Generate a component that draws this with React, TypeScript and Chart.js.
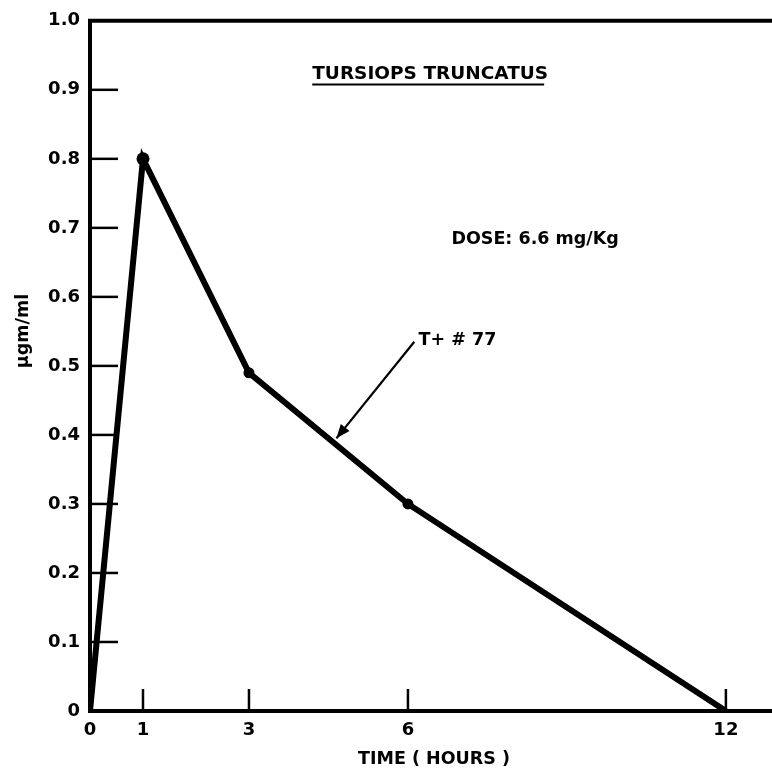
import React, { useEffect, useRef } from "react";
import { Chart, registerables } from "chart.js";

Chart.register(...registerables);

const timeHours = [0, 1, 3, 6, 12];
const concentration = [0, 0.8, 0.49, 0.3, 0];
const pointRadii = [0, 6.5, 5.5, 5.5, 0];
const xTickValues = [0, 1, 3, 6, 12];
const yTickValues = [0, 0.1, 0.2, 0.3, 0.4, 0.5, 0.6, 0.7, 0.8, 0.9, 1.0];
const titleText = "TURSIOPS TRUNCATUS";
const doseText = "DOSE: 6.6 mg/Kg";
const seriesLabel = "T+ # 77";
const xTitle = "TIME ( HOURS )";
const yTitle = "\u03BCgm/ml";

const FONT = "'DejaVu Sans', 'Liberation Sans', sans-serif";

const decorations = {
  id: "decorations",
  afterDraw(chart: any) {
    const ctx = chart.ctx as CanvasRenderingContext2D;
    const area = chart.chartArea;
    const xs = chart.scales.x;
    const ys = chart.scales.y;
    ctx.save();
    ctx.strokeStyle = "#000";
    ctx.fillStyle = "#000";
    // top border
    ctx.lineWidth = 4;
    ctx.beginPath();
    ctx.moveTo(area.left - 2, area.top);
    ctx.lineTo(area.right, area.top);
    ctx.stroke();
    // inner y ticks
    ctx.lineWidth = 2.5;
    for (const v of yTickValues) {
      if (v === 0 || v === 1) continue;
      const py = ys.getPixelForValue(v);
      ctx.beginPath();
      ctx.moveTo(area.left, py);
      ctx.lineTo(area.left + 28, py);
      ctx.stroke();
    }
    // inner x ticks
    for (const v of xTickValues) {
      if (v === 0) continue;
      const px = xs.getPixelForValue(v);
      ctx.beginPath();
      ctx.moveTo(px, area.bottom);
      ctx.lineTo(px, area.bottom - 22);
      ctx.stroke();
    }
    // title
    ctx.font = `bold 18.5px ${FONT}`;
    ctx.textAlign = "center";
    ctx.textBaseline = "alphabetic";
    const tx = xs.getPixelForValue(6.42);
    const ty = ys.getPixelForValue(0.915);
    ctx.fillText(titleText, tx, ty);
    const tw = ctx.measureText(titleText).width;
    ctx.lineWidth = 2;
    ctx.beginPath();
    ctx.moveTo(tx - tw / 2, ty + 5);
    ctx.lineTo(tx + tw / 2 - 4, ty + 5);
    ctx.stroke();
    // dose
    ctx.font = `bold 17.5px ${FONT}`;
    ctx.textAlign = "left";
    ctx.fillText(doseText, xs.getPixelForValue(6.82), ys.getPixelForValue(0.677));
    // series label
    ctx.fillText(seriesLabel, xs.getPixelForValue(6.2), ys.getPixelForValue(0.531));
    // arrow
    const ax0 = xs.getPixelForValue(6.12);
    const ay0 = ys.getPixelForValue(0.535);
    const ax1 = xs.getPixelForValue(4.65);
    const ay1 = ys.getPixelForValue(0.395);
    ctx.lineWidth = 2.2;
    ctx.beginPath();
    ctx.moveTo(ax0, ay0);
    ctx.lineTo(ax1, ay1);
    ctx.stroke();
    const ang = Math.atan2(ay1 - ay0, ax1 - ax0);
    const hl = 15;
    ctx.beginPath();
    ctx.moveTo(ax1, ay1);
    ctx.lineTo(ax1 - hl * Math.cos(ang - 0.38), ay1 - hl * Math.sin(ang - 0.38));
    ctx.lineTo(ax1 - hl * Math.cos(ang + 0.38), ay1 - hl * Math.sin(ang + 0.38));
    ctx.closePath();
    ctx.fill();
    // x title
    ctx.font = `bold 17.5px ${FONT}`;
    ctx.textAlign = "center";
    ctx.fillText(xTitle, 434, 764);
    // y title
    ctx.translate(28, 331);
    ctx.rotate(-Math.PI / 2);
    ctx.textAlign = "center";
    ctx.fillText(yTitle, 0, 0);
    ctx.restore();
  },
};

export default function App() {
  const ref = useRef<HTMLCanvasElement | null>(null);
  useEffect(() => {
    if (!ref.current) return;
    const chart = new Chart(ref.current, {
      type: "line",
      data: {
        datasets: [
          {
            label: seriesLabel,
            data: timeHours.map((t, i) => ({ x: t, y: concentration[i] })),
            borderColor: "#000",
            backgroundColor: "#000",
            borderWidth: 6,
            pointRadius: pointRadii,
            pointBackgroundColor: "#000",
            pointBorderWidth: 0,
            tension: 0,
          },
        ],
      },
      options: {
        responsive: false,
        animation: false,
        devicePixelRatio: 1,
        layout: { padding: { top: 19, right: 0, left: 0, bottom: 0 } },
        plugins: {
          legend: { display: false },
          tooltip: { enabled: false },
          title: { display: false },
        },
        scales: {
          x: {
            type: "linear",
            min: 0,
            max: 12.87,
            afterBuildTicks: (scale: any) => {
              scale.ticks = xTickValues.map((v) => ({ value: v }));
            },
            afterFit: (scale: any) => {
              scale.height = 59;
            },
            grid: { display: false, drawTicks: false },
            border: { display: true, width: 4, color: "#000" },
            ticks: {
              color: "#000",
              padding: 9,
              font: { family: FONT, size: 18, weight: "bold" },
              callback: (v: any) => String(v),
              maxRotation: 0,
            },
          },
          y: {
            min: 0,
            max: 1,
            afterBuildTicks: (scale: any) => {
              scale.ticks = yTickValues.map((v) => ({ value: v }));
            },
            afterFit: (scale: any) => {
              scale.width = 90;
            },
            grid: { display: false, drawTicks: false },
            border: { display: true, width: 4, color: "#000" },
            ticks: {
              color: "#000",
              padding: 10,
              font: { family: FONT, size: 18, weight: "bold" },
              callback: (v: any) => (Number(v) === 0 ? "0" : Number(v).toFixed(1)),
            },
          },
        },
      },
      plugins: [decorations],
    });
    return () => chart.destroy();
  }, []);
  return (
    <div style={{ position: "absolute", left: 0, top: 0, width: 772, height: 770, background: "#fff" }}>
      <canvas ref={ref} width={772} height={770} />
    </div>
  );
}
